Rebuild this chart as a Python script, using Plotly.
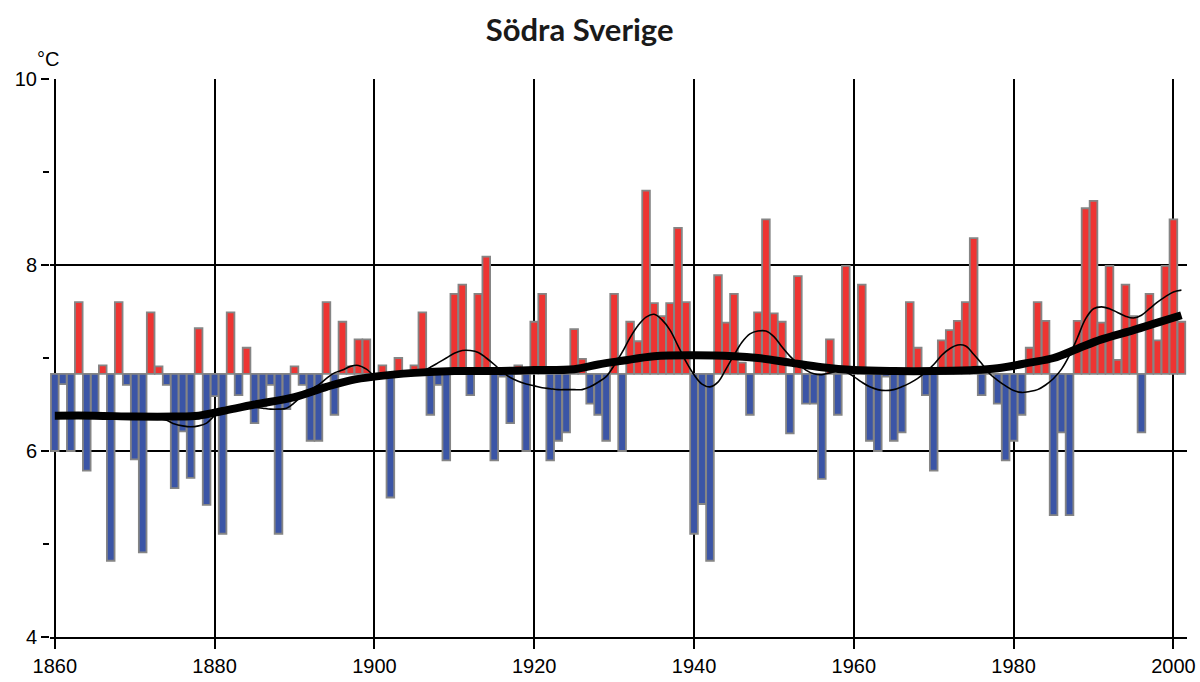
import plotly.graph_objects as go

# annual mean temperature, southern Sweden (°C)
years = list(range(1860, 2002))
temps = [
    6.00, 6.72, 6.00, 7.60, 5.79, 6.41, 6.92, 4.82, 7.60, 6.71,  # 1860s
    5.91, 4.91, 7.49, 6.91, 6.71, 5.60, 6.21, 5.71, 7.32, 5.42,  # 1870s
    6.59, 5.11, 7.49, 6.60, 7.11, 6.30, 6.48, 6.71, 5.11, 6.45,  # 1880s
    6.91, 6.71, 6.11, 6.11, 7.60, 6.39, 7.39, 6.91, 7.20, 7.20,  # 1890s
    6.83, 6.92, 5.50, 7.00, 6.85, 6.92, 7.49, 6.39, 6.71, 5.90,  # 1900s
    7.69, 7.79, 6.60, 7.69, 8.09, 5.90, 6.80, 6.30, 6.92, 6.00,  # 1910s
    7.39, 7.69, 5.90, 6.11, 6.20, 7.31, 6.99, 6.51, 6.39, 6.11,  # 1920s
    7.69, 6.00, 7.39, 7.18, 8.80, 7.59, 7.45, 7.59, 8.40, 7.60,  # 1930s
    5.11, 5.43, 4.82, 7.89, 7.38, 7.69, 6.95, 6.39, 7.49, 8.49,  # 1940s
    7.48, 7.39, 6.19, 7.88, 6.51, 6.51, 5.70, 7.20, 6.39, 7.99,  # 1950s
    6.85, 7.79, 6.11, 6.00, 6.80, 6.11, 6.20, 7.60, 7.11, 6.60,  # 1960s
    5.79, 7.19, 7.30, 7.40, 7.60, 8.29, 6.60, 6.83, 6.51, 5.90,  # 1970s
    6.11, 6.39, 7.11, 7.60, 7.40, 5.31, 6.20, 5.31, 7.40, 8.61,  # 1980s
    8.69, 7.38, 7.99, 6.98, 7.79, 7.45, 6.20, 7.69, 7.19, 7.99,  # 1990s
    8.49, 7.39,                                                  # 2000s
]
baseline = 6.83

# long-term trend (thick line)
trend_years = [1860, 1865, 1870, 1875, 1878, 1881, 1885, 1890, 1894, 1897,
               1900, 1905, 1910, 1915, 1920, 1925, 1928, 1931, 1935, 1940,
               1945, 1948, 1952, 1956, 1960, 1965, 1970, 1975, 1978, 1982,
               1985, 1988, 1991, 1995, 1998, 2001]
trend = [6.38, 6.38, 6.37, 6.37, 6.38, 6.43, 6.50, 6.58, 6.69, 6.76,
         6.80, 6.84, 6.86, 6.86, 6.87, 6.88, 6.93, 6.97, 7.02, 7.03,
         7.02, 7.00, 6.95, 6.90, 6.87, 6.86, 6.86, 6.87, 6.89, 6.95,
         7.00, 7.10, 7.20, 7.30, 7.38, 7.46]

# ~10-year smoothing (thin line)
smooth_years = list(range(1865, 2002))
smooth = [
    6.38, 6.38, 6.38, 6.38, 6.38,
    6.38, 6.37, 6.36, 6.35, 6.33, 6.29, 6.27, 6.26, 6.27, 6.30,
    6.38, 6.44, 6.47, 6.48, 6.48, 6.47, 6.46, 6.45, 6.45, 6.46,
    6.52, 6.60, 6.66, 6.71, 6.78, 6.84, 6.87, 6.91, 6.92, 6.88,
    6.81, 6.79, 6.80, 6.82, 6.83, 6.84, 6.86, 6.90, 6.95, 7.00,
    7.05, 7.08, 7.08, 7.06, 7.00, 6.93, 6.85, 6.79, 6.75, 6.72,
    6.70, 6.68, 6.67, 6.66, 6.66, 6.66, 6.66, 6.69, 6.74, 6.80,
    6.92, 7.06, 7.22, 7.35, 7.44, 7.47, 7.41, 7.30, 7.13, 6.96,
    6.82, 6.72, 6.69, 6.74, 6.88, 7.03, 7.17, 7.26, 7.29, 7.29,
    7.23, 7.12, 7.02, 6.94, 6.87, 6.83, 6.82, 6.84, 6.86, 6.85,
    6.80, 6.74, 6.69, 6.66, 6.65, 6.66, 6.69, 6.73, 6.78, 6.85,
    6.93, 7.03, 7.10, 7.14, 7.13, 7.04, 6.94, 6.83, 6.76, 6.70,
    6.65, 6.63, 6.64, 6.66, 6.71, 6.78, 6.88, 7.03, 7.22, 7.42,
    7.53, 7.55, 7.53, 7.49, 7.45, 7.43, 7.46, 7.53, 7.60, 7.66,
    7.71, 7.73,
]

RED = "#EE3432"
BLUE = "#3B55A6"

diffs = [t - baseline for t in temps]
colors = [RED if d >= 0 else BLUE for d in diffs]

fig = go.Figure()
fig.add_trace(go.Bar(
    x=years, y=diffs, base=baseline,
    marker=dict(color=colors, line=dict(color="#858585", width=1.8)),
    hoverinfo="skip",
))
fig.add_trace(go.Scatter(
    x=smooth_years, y=smooth, mode="lines",
    line=dict(color="black", width=1.6, shape="spline"),
))
fig.add_trace(go.Scatter(
    x=trend_years, y=trend, mode="lines",
    line=dict(color="black", width=8, shape="spline"),
))

tick_font = dict(family="Liberation Sans, Arial, sans-serif", size=20, color="black")

fig.update_layout(
    width=1200, height=682,
    margin=dict(l=50, r=13, t=79, b=45),
    paper_bgcolor="white", plot_bgcolor="white",
    showlegend=False,
    bargap=0.04,
    title=dict(
        text="<b>Södra Sverige</b>",
        font=dict(family="Lato, sans-serif", size=31, color="#1a1a1a"),
        x=0.483, xref="container", xanchor="center",
        y=0.956, yanchor="middle",
    ),
    xaxis=dict(
        range=[1859.4, 2001.7],
        tickvals=list(range(1860, 2001, 20)),
        showgrid=True, gridcolor="black", gridwidth=1.5,
        showline=True, linecolor="black", linewidth=1.5,
        ticks="outside", ticklen=10, tickwidth=1.5, tickcolor="black",
        tickfont=tick_font, zeroline=False, automargin=False,
    ),
    yaxis=dict(
        range=[4, 10],
        dtick=2,
        showgrid=True, gridcolor="black", gridwidth=1.5,
        ticks="outside", ticklen=8, tickwidth=1.5, tickcolor="black",
        minor=dict(dtick=1, ticks="outside", ticklen=6, tickcolor="black", showgrid=False),
        tickfont=tick_font, zeroline=False, automargin=False,
    ),
    annotations=[dict(
        text="°C", xref="paper", yref="paper", x=-0.002, y=1.012,
        xanchor="center", yanchor="bottom", showarrow=False,
        font=dict(family="Liberation Sans, Arial, sans-serif", size=20, color="black"),
    )],
)

# drop the browser's default 8px body margin so the figure sits at the page origin
fig.write_html(
    "out.html",
    config={"displayModeBar": False},
    post_script="document.body.style.margin='0';",
)
